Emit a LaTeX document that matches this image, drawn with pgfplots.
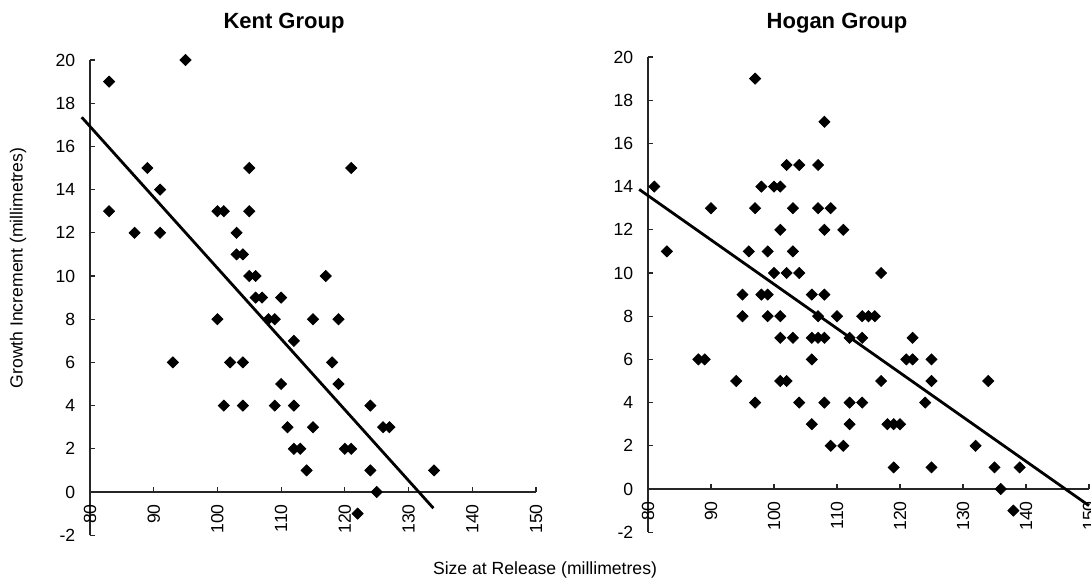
\documentclass[border=0pt]{standalone}
\usepackage{fontspec}
\setmainfont{Liberation Sans}
\usepackage{pgfplots}
\pgfplotsset{compat=1.18}
\pgfplotsset{
  growth/.style={
    scale only axis,
    height=237.6pt,
    xmin=80, xmax=150, ymin=-2, ymax=20,
    axis x line*=middle, axis y line*=left,
    axis line style={black!85, line width=0.6pt},
    every tick/.style={black!85, line width=0.6pt},
    tick align=inside,
    major tick length=2.6pt,
    xtick={80,90,...,150}, ytick={-2,0,2,...,20},
    hide obscured x ticks=false, hide obscured y ticks=false,
    /pgf/number format/assume math mode=true,
    tick label style={font=\fontsize{8.8}{10.5}\selectfont},
    xticklabel style={rotate=90, anchor=east, inner xsep=6pt},
    yticklabel style={anchor=east, inner xsep=0pt, xshift=-7.2pt},
    clip=false,
  },
  pts/.style={only marks, mark=square*, mark size=1.95pt, mark options={rotate=45, fill=black, draw=black}},
  fit/.style={no marks, black, line width=1.4pt},
}
\begin{document}
\begin{tikzpicture}
\path[use as bounding box] (0,0) rectangle (545.5pt,-293.5pt);
\begin{axis}[growth, width=223pt, at={(45pt,-267.6pt)}, anchor=south west]
\addplot[pts] coordinates {
(83,19)(83,13)(95,20)(87,12)(89,15)(91,14)(91,12)(100,13)(101,13)(103,12)
(103,11)(104,11)(105,15)(105,13)(105,10)(106,10)(100,8)(93,6)(102,6)(104,6)
(101,4)(104,4)(106,9)(107,9)(110,9)(108,8)(109,8)(112,7)(109,4)(112,4)
(110,5)(111,3)(112,2)(113,2)(114,1)(121,15)(117,10)(115,8)(119,8)(118,6)
(119,5)(124,4)(115,3)(126,3)(127,3)(120,2)(121,2)(124,1)(134,1)(125,0)(122,-1)
};
\addplot[fit] coordinates {(78.7,17.35)(133.9,-0.75)};
\end{axis}
\begin{axis}[growth, width=220.5pt, at={(324pt,-266.1pt)}, anchor=south west]
\addplot[pts] coordinates {
(81,14)(83,11)(90,13)(97,19)(97,13)(98,14)(100,14)(101,14)(96,11)(99,11)
(101,12)(102,15)(104,15)(103,13)(103,11)(100,10)(102,10)(104,10)(107,15)(107,13)
(109,13)(108,17)(108,12)(111,12)(117,10)(106,9)(108,9)(107,8)(110,8)(114,8)
(115,8)(116,8)(95,9)(98,9)(99,9)(95,8)(99,8)(101,8)(88,6)(89,6)
(94,5)(97,4)(101,7)(103,7)(101,5)(102,5)(104,4)(106,7)(107,7)(108,7)
(106,6)(106,3)(108,4)(109,2)(112,7)(114,7)(122,7)(121,6)(122,6)(125,6)
(117,5)(125,5)(134,5)(112,4)(114,4)(124,4)(112,3)(118,3)(119,3)(120,3)
(111,2)(132,2)(119,1)(125,1)(135,1)(139,1)(136,0)(138,-1)
};
\addplot[fit] coordinates {(78.6,13.87)(150,-0.77)};
\end{axis}
\node[anchor=base, font=\bfseries\fontsize{11}{13}\selectfont] at (142pt,-14.5pt) {Kent Group};
\node[anchor=base, font=\bfseries\fontsize{11}{13}\selectfont] at (418.5pt,-14.5pt) {Hogan Group};
\node[rotate=90, font=\fontsize{8.8}{10.5}\selectfont] at (9pt,-134pt) {Growth Increment (millimetres)};
\node[font=\fontsize{8.8}{10.5}\selectfont] at (272.5pt,-285pt) {Size at Release (millimetres)};
\end{tikzpicture}
\end{document}
